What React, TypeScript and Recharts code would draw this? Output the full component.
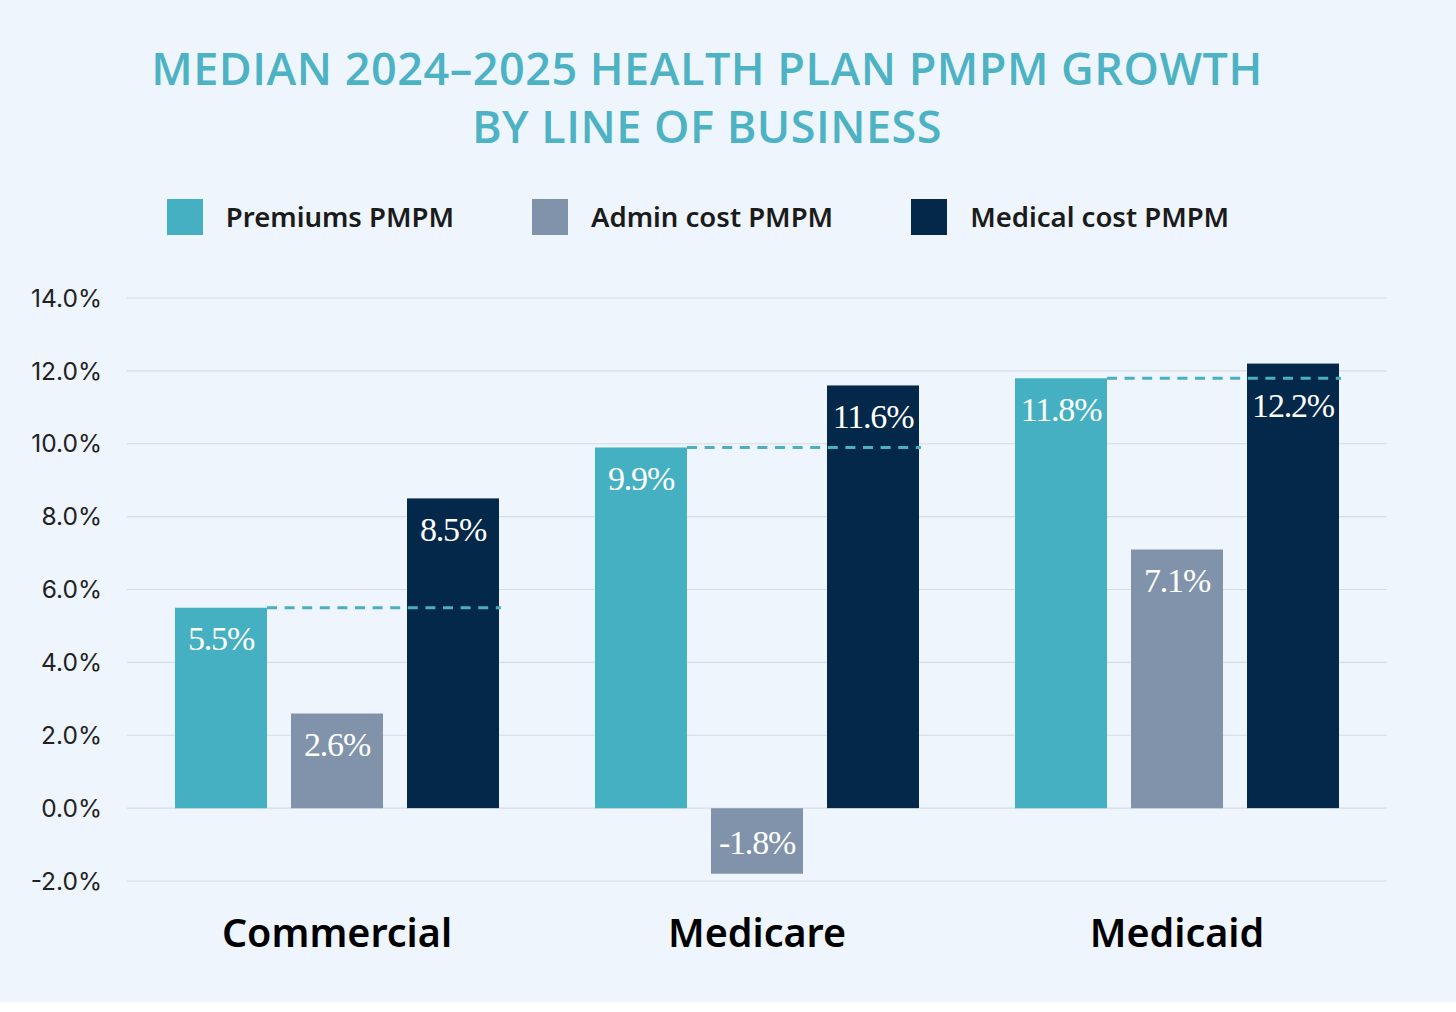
import React from "react";
import { BarChart, Bar, XAxis, YAxis, CartesianGrid, Legend, LabelList } from "recharts";

const categories = ["Commercial", "Medicare", "Medicaid"];
const premiums = [5.5, 9.9, 11.8];
const adminCost = [2.6, -1.8, 7.1];
const medicalCost = [8.5, 11.6, 12.2];
const yTicks = [-2, 0, 2, 4, 6, 8, 10, 12, 14];
const seriesNames = ["Premiums PMPM", "Admin cost PMPM", "Medical cost PMPM"];

const COLORS = { premiums: "#45B0C1", admin: "#8093AB", medical: "#032849" };
const BG = "#EEF5FC";
const BAR_SIZE = 92;
const BAR_GAP = 24;

const data = categories.map((c, i) => ({
  name: c,
  premiums: premiums[i],
  admin: adminCost[i],
  medical: medicalCost[i],
}));

const labelText = (x: number, cy: number, value: number) => (
  <text
    x={x}
    y={cy}
    textAnchor="middle"
    dominantBaseline="central"
    fill="#ffffff"
    fontFamily="'Liberation Serif', serif"
    fontSize={34}
    letterSpacing={-1.2}
  >
    {`${value.toFixed(1)}%`}
  </text>
);

const ValueLabel = (props: any) => {
  const { x, y, width, height, value } = props;
  const top = Math.min(y, y + height);
  const bottom = Math.max(y, y + height);
  const cy = value < 0 ? (top + bottom) / 2 + 2 : top + 31;
  return labelText(x + width / 2, cy, value);
};

const MedicalLabel = (props: any) => {
  const { x, y, width, height, value, index } = props;
  const top = Math.min(y, y + height);
  const bottom = Math.max(y, y + height);
  const perUnit = (bottom - top) / Math.abs(value);
  const lineY = bottom - premiums[index] * perUnit;
  let cy = top + 31;
  if (lineY > top && lineY < top + 50) cy = lineY + 27;
  return labelText(x + width / 2, cy, value);
};

const MedicalShape = (props: any) => {
  const { x, y, width, height, fill, payload, value } = props;
  const zeroY = y + height;
  const perUnit = height / value;
  const py = zeroY - payload.premiums * perUnit;
  const startX = x - width - 2 * BAR_GAP;
  return (
    <g>
      <rect x={x} y={y} width={width} height={height} fill={fill} />
      <line
        x1={startX}
        x2={x + width + 2}
        y1={py}
        y2={py}
        stroke="#4AAFC0"
        strokeWidth={3}
        strokeDasharray="10 7.6"
      />
    </g>
  );
};

const XTick = (props: any) => {
  const { x, y, payload } = props;
  return (
    <text
      x={x}
      y={y + 43}
      textAnchor="middle"
      dominantBaseline="central"
      fill="#000"
      fontFamily="'Noto Sans', sans-serif"
      fontWeight={600}
      fontSize={39.5}
    >
      {payload.value}
    </text>
  );
};

const LegendContent = (props: any) => {
  const payload = [...(props.payload || [])].sort(
    (a: any, b: any) => seriesNames.indexOf(a.value) - seriesNames.indexOf(b.value)
  );
  return (
    <div
      style={{
        display: "flex",
        justifyContent: "center",
        alignItems: "center",
        gap: 78,
        fontFamily: "'Noto Sans', sans-serif",
        fontWeight: 600,
        fontSize: 27.5,
        color: "#1b1b1b",
      }}
    >
      {payload.map((p: any) => (
        <div key={p.value} style={{ display: "flex", alignItems: "center", gap: 23 }}>
          <div style={{ width: 36, height: 36, background: p.color }} />
          <span>{p.value}</span>
        </div>
      ))}
    </div>
  );
};

export default function App() {
  return (
    <div
      style={{
        position: "absolute",
        left: 0,
        top: 0,
        width: 1456,
        height: 1002,
        background: BG,
      }}
    >
      <div
        style={{
          position: "absolute",
          left: 0,
          top: 39,
          width: 1414,
          textAlign: "center",
          color: "#4DB3C4",
          fontFamily: "'Open Sans', sans-serif",
          fontWeight: 600,
          fontSize: 45,
          lineHeight: "58px",
          letterSpacing: 0.5,
        }}
      >
        MEDIAN 2024–2025 HEALTH PLAN PMPM GROWTH
        <br />
        BY LINE OF BUSINESS
      </div>
      <BarChart
        width={1456}
        height={1002}
        data={data}
        margin={{ top: 298, right: 69, bottom: 0, left: 0 }}
        barSize={BAR_SIZE}
        barGap={BAR_GAP}
      >
        <CartesianGrid vertical={false} stroke="#D4DCE4" strokeWidth={1.2} />
        <XAxis
          dataKey="name"
          height={121}
          axisLine={false}
          tickLine={false}
          tick={<XTick />}
          interval={0}
        />
        <YAxis
          width={127}
          domain={[-2, 14]}
          ticks={yTicks}
          axisLine={false}
          tickLine={false}
          tickMargin={19}
          tickFormatter={(v: number) => `${v.toFixed(1)}%`}
          tick={{ fill: "#222", fontSize: 24.5, fontFamily: "Inter, sans-serif" }}
        />
        <Legend
          verticalAlign="middle"
          align="center"
          layout="horizontal"
          content={<LegendContent />}
          wrapperStyle={{ top: 198, left: 0, width: 1396 }}
        />
        <Bar dataKey="premiums" name={seriesNames[0]} fill={COLORS.premiums} isAnimationActive={false}>
          <LabelList dataKey="premiums" content={<ValueLabel />} />
        </Bar>
        <Bar dataKey="admin" name={seriesNames[1]} fill={COLORS.admin} isAnimationActive={false}>
          <LabelList dataKey="admin" content={<ValueLabel />} />
        </Bar>
        <Bar
          dataKey="medical"
          name={seriesNames[2]}
          fill={COLORS.medical}
          isAnimationActive={false}
          shape={<MedicalShape />}
        >
          <LabelList dataKey="medical" content={<MedicalLabel />} />
        </Bar>
      </BarChart>
    </div>
  );
}
